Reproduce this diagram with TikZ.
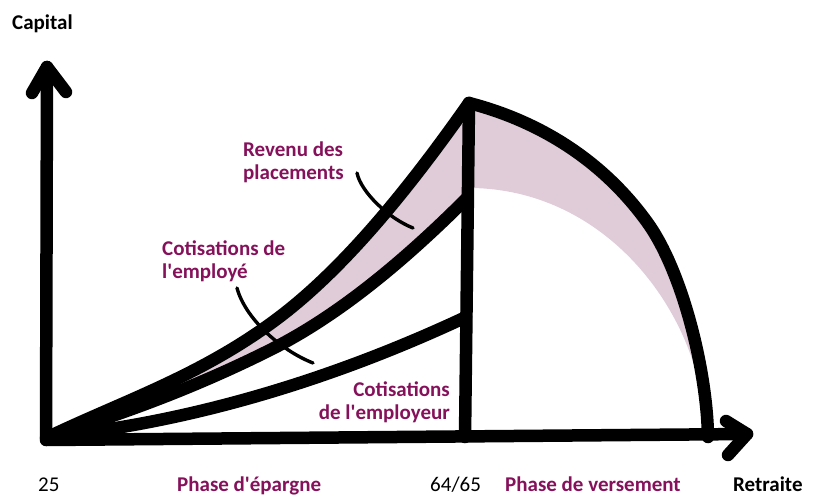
\documentclass[tikz,border=0pt]{standalone}
\usepackage{fontspec}
\setmainfont{Carlito}[Ligatures=TeXOff]
\definecolor{band}{RGB}{224,204,216}
\definecolor{plum}{RGB}{133,17,91}
\begin{document}
\begin{tikzpicture}[x=1pt,y=-1pt,
  thickline/.style={line width=12.5pt, line cap=round, line join=round},
  leader/.style={line width=3.4pt, line cap=round},
  lbl/.style={inner sep=0pt, font=\fontsize{21}{23}\selectfont\bfseries, text=plum},
  axlbl/.style={inner sep=0pt, font=\fontsize{21}{23}\selectfont, text=black},
  axbold/.style={inner sep=0pt, font=\fontsize{21}{23}\selectfont\bfseries, text=black},
]
\useasboundingbox (0,0) rectangle (821,497);
\coordinate (O) at (46,440);
\coordinate (Ytip) at (47,67);
\coordinate (Xtip) at (747,434);
\coordinate (Peak) at (469,103);
\coordinate (Vbot) at (465,437);
\coordinate (G0) at (46,438);
\coordinate (Gm) at (270,324);
\coordinate (E0) at (47,437);
\coordinate (Em) at (270,350);
\coordinate (E1) at (467,198);
\coordinate (R0) at (47,437);
\coordinate (R1) at (466,317);
\coordinate (Dm) at (647,222);
\coordinate (D1) at (708,437);
\coordinate (Q0) at (472,188);
\coordinate (Q1) at (704,410);

% pink bands
\fill[band] (G0) .. controls (121,402) and (195,378) .. (Gm)
  .. controls (337,276) and (403,197) .. (Peak) -- (E1)
  .. controls (401,264) and (336,317) .. (Em)
  .. controls (195,387.5) and (122,414.5) .. (E0) -- cycle;
\fill[band] (Peak) .. controls (535,120) and (600,157) .. (Dm)
  .. controls (682,270) and (707,370) .. (D1) -- (Q1)
  .. controls (690,300) and (600,190) .. (Q0) -- cycle;

% growth curves
\draw[thickline] (G0) .. controls (121,402) and (195,378) .. (Gm)
  .. controls (337,276) and (403,197) .. (Peak);
\draw[thickline] (E0) .. controls (122,414.5) and (195,387.5) .. (Em)
  .. controls (336,317) and (401,264) .. (E1);
\draw[thickline] (R0) .. controls (220,420) and (370,362) .. (R1);
% decay curve
\draw[thickline] (Peak) .. controls (535,120) and (600,157) .. (Dm)
  .. controls (682,270) and (707,370) .. (D1);
% vertical line
\draw[thickline] (Peak) -- (Vbot);

% axes
\draw[thickline] (Ytip) -- (O) -- (Xtip);
\draw[thickline] (32,93) -- (Ytip) -- (66,92);
\draw[thickline] (726,421) -- (Xtip) -- (728,455);

% leaders
\coordinate (L1a) at (357,173);
\coordinate (L1b) at (413,228);
\coordinate (L2a) at (237,288);
\coordinate (L2b) at (313,363);
\draw[leader] (L1a) .. controls (361,192) and (388,218) .. (L1b);
\draw[leader] (L2a) .. controls (245,318) and (280,350) .. (L2b);

% labels
\node[axbold, anchor=base west] (cap) at (12,30) {Capital};
\node[lbl, anchor=base west, align=left] (rev) at (243,179) {Revenu des\\placements};
\node[lbl, anchor=base west, align=left] (emp) at (162,278) {Cotisations de\\l'employé};
\node[lbl, anchor=base east, align=right] (empr) at (450,419) {Cotisations\\de l'employeur};

\node[axlbl, anchor=base west] (a25) at (38,491) {25};
\node[lbl, anchor=base west] (pe) at (177,491) {Phase d'épargne};
\node[axlbl, anchor=base west] (a64) at (430,491) {64/65};
\node[lbl, anchor=base west] (pv) at (505,491) {Phase de versement};
\node[axbold, anchor=base west] (ret) at (733,491) {Retraite};
\end{tikzpicture}
\end{document}
